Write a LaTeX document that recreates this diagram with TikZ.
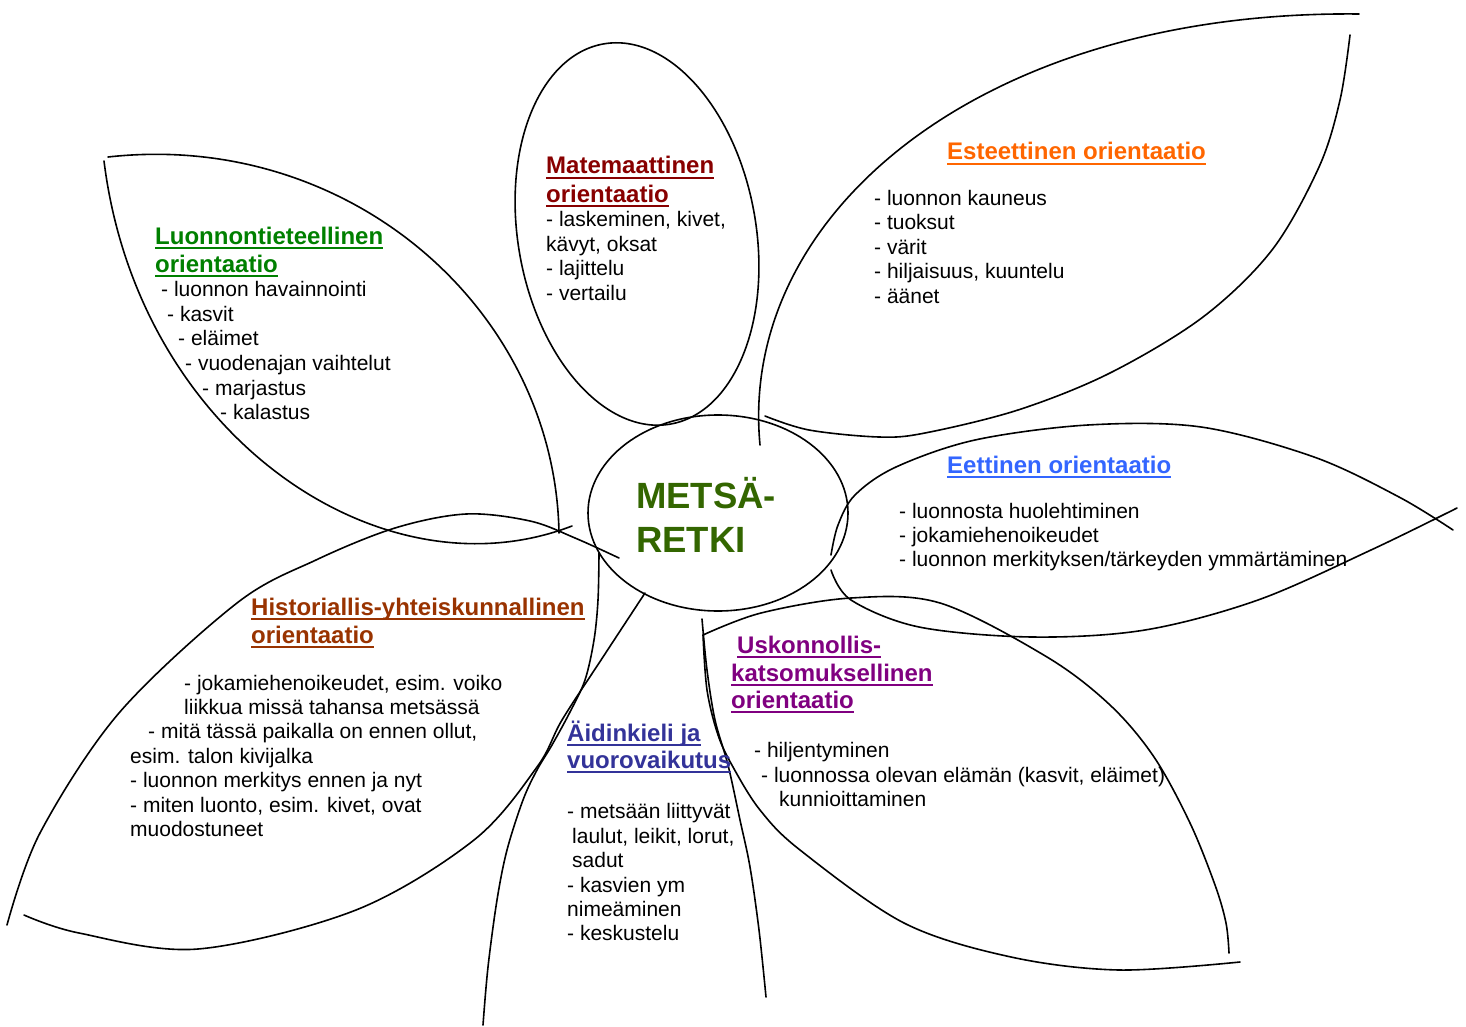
\documentclass[tikz,border=0pt]{standalone}
\usepackage{fontspec}
\setmainfont{Liberation Sans}
\definecolor{cmat}{HTML}{880000}
\definecolor{cest}{HTML}{FF6600}
\definecolor{cluo}{HTML}{008000}
\definecolor{ceet}{HTML}{3366FF}
\definecolor{chis}{HTML}{993300}
\definecolor{caid}{HTML}{333399}
\definecolor{cusk}{HTML}{800080}
\definecolor{cmet}{HTML}{336600}
\newsavebox\myulbox
\newcommand\myul[1]{\sbox\myulbox{#1}\rlap{\rule[-5pt]{\wd\myulbox}{2.4pt}}\usebox\myulbox}
\tikzset{
  body/.style={anchor=base west, inner sep=0pt, font=\fontsize{21}{25}\selectfont},
  ttl/.style={anchor=base west, inner sep=0pt, font=\fontsize{24}{28}\selectfont\bfseries},
  ctr/.style={anchor=base west, inner sep=0pt, text=cmet, font=\fontsize{36.5}{43}\selectfont\bfseries},
  petal/.style={line width=1.6pt, line cap=round, line join=round},
  sm/.style={smooth, tension=0.55}
}
\begin{document}
\begin{tikzpicture}[x=1pt,y=-1pt]
\useasboundingbox (0,0) rectangle (1466,1027);
\fill[white] (0,0) rectangle (1466,1027);

% centre
\draw[petal] (718,513) ellipse [x radius=130, y radius=98];
% Matemaattinen petal
\draw[petal, rotate around={10:(637,234)}] (637,234) ellipse [x radius=119, y radius=193];
% Luonnontieteellinen petal
\draw[petal] (108,157) .. controls (350,130) and (555,310) .. (559,533);
\draw[petal] (104,161) .. controls (138,435) and (380,600) .. (572,526);
% Historiallis petal
\draw[petal] plot[sm] coordinates {(7,925) (40,833) (119,713) (237,603) (316,560) (395,528) (466,514) (530,521) (575,538) (619,558)};
\draw[petal] plot[sm] coordinates {(24,915) (79,933) (198,949) (356,910) (474,840) (537,767) (562,720) (603,657) (645,593)};
% Aidinkieli petal
\draw[petal] plot[sm] coordinates {(599,553) (598,600) (594,640) (585,680) (570,712) (552,745) (537,770) (523,800) (507,850) (497,900) (488,967) (483,1025)};
\draw[petal] plot[sm] coordinates {(702,619) (707,670) (715,720) (728,765) (740,820) (750,867) (759,930) (766,997)};
% Uskonnollis petal
\draw[petal] plot[sm] coordinates {(703,635) (761,613) (851,598) (940,603) (1047,657) (1110,705) (1154,757) (1190,823) (1215,885) (1226,923) (1229,953)};
\draw[petal] plot[sm] coordinates {(703,635) (707,690) (718,735) (733,767) (760,810) (800,850) (904,923) (1011,957) (1119,970) (1240,962)};
% Esteettinen petal
\draw[petal] (760,445) .. controls (738,215) and (980,10) .. (1359,14);
\draw[petal] plot[sm] coordinates {(1350,35) (1340,100) (1319,167) (1272,250) (1203,317) (1110,373) (1018,410) (925,433) (879,437) (809,430) (765,416)};
% Eettinen petal
\draw[petal] plot[sm] coordinates {(831,555) (838,525) (855,495) (896,467) (975,440) (1088,425) (1201,427) (1314,457) (1399,497) (1453,530)};
\draw[petal] plot[sm] coordinates {(831,570) (851,600) (919,627) (1032,637) (1145,630) (1258,600) (1371,550) (1457,508)};

% centre text
\node[ctr] (met1) at (636,508) {METSÄ-};
\node[ctr] (met2) at (636,552) {RETKI};

% Luonnontieteellinen
\node[ttl, text=cluo] (luo1) at (155,244) {\myul{Luonnontieteellinen}};
\node[ttl, text=cluo] (luo2) at (155,272) {\myul{orientaatio}};
\node[body] (luo3) at (161,296) {- luonnon havainnointi};
\node[body] (luo4) at (167,321) {- kasvit};
\node[body] (luo5) at (178,345) {- eläimet};
\node[body] (luo6) at (185,370) {- vuodenajan vaihtelut};
\node[body] (luo7) at (202,395) {- marjastus};
\node[body] (luo8) at (220,419) {- kalastus};

% Matemaattinen
\node[ttl, text=cmat] (mat1) at (546,174) {\myul{Matemaattinen}};
\node[ttl, text=cmat] (mat2) at (546,202) {\myul{orientaatio}};
\node[body] (mat3) at (546,226) {- laskeminen, kivet,};
\node[body] (mat4) at (546,251) {kävyt, oksat};
\node[body] (mat5) at (546,275) {- lajittelu};
\node[body] (mat6) at (546,300) {- vertailu};

% Esteettinen
\node[ttl, text=cest] (est1) at (947,160) {\myul{Esteettinen orientaatio}};
\node[body] (est2) at (874,205) {- luonnon kauneus};
\node[body] (est3) at (874,229) {- tuoksut};
\node[body] (est4) at (874,254) {- värit};
\node[body] (est5) at (874,278) {- hiljaisuus, kuuntelu};
\node[body] (est6) at (874,303) {- äänet};

% Eettinen
\node[ttl, text=ceet] (eet1) at (947,473) {\myul{Eettinen orientaatio}};
\node[body] (eet2) at (899,518) {- luonnosta huolehtiminen};
\node[body] (eet3) at (899,542) {- jokamiehenoikeudet};
\node[body] (eet4) at (899,566) {- luonnon merkityksen/tärkeyden ymmärtäminen};

% Historiallis
\node[ttl, text=chis] (his1) at (251,615) {\myul{Historiallis-yhteiskunnallinen}};
\node[ttl, text=chis] (his2) at (251,643) {\myul{orientaatio}};
\node[body] (his3) at (184,690) {- jokamiehenoikeudet, esim. voiko};
\node[body] (his4) at (184,714) {liikkua missä tahansa metsässä};
\node[body] (his5) at (148,738) {- mitä tässä paikalla on ennen ollut,};
\node[body] (his6) at (130,763) {esim. talon kivijalka};
\node[body] (his7) at (130,787) {- luonnon merkitys ennen ja nyt};
\node[body] (his8) at (130,812) {- miten luonto, esim. kivet, ovat};
\node[body] (his9) at (130,836) {muodostuneet};

% Aidinkieli
\node[ttl, text=caid] (aid1) at (567,741) {\myul{Äidinkieli ja}};
\node[ttl, text=caid] (aid2) at (567,768) {\myul{vuorovaikutus}};
\node[body] (aid3) at (567,818) {- metsään liittyvät};
\node[body] (aid4) at (572,843) {laulut, leikit, lorut,};
\node[body] (aid5) at (572,867) {sadut};
\node[body] (aid6) at (567,892) {- kasvien ym};
\node[body] (aid7) at (567,916) {nimeäminen};
\node[body] (aid8) at (567,940) {- keskustelu};

% Uskonnollis
\node[ttl, text=cusk] (usk1) at (737,653) {\myul{Uskonnollis-}};
\node[ttl, text=cusk] (usk2) at (731,681) {\myul{katsomuksellinen}};
\node[ttl, text=cusk] (usk3) at (731,708) {\myul{orientaatio}};
\node[body] (usk4) at (754,757) {- hiljentyminen};
\node[body] (usk5) at (761,782) {- luonnossa olevan elämän (kasvit, eläimet)};
\node[body] (usk6) at (779,806) {kunnioittaminen};
\end{tikzpicture}
\end{document}
